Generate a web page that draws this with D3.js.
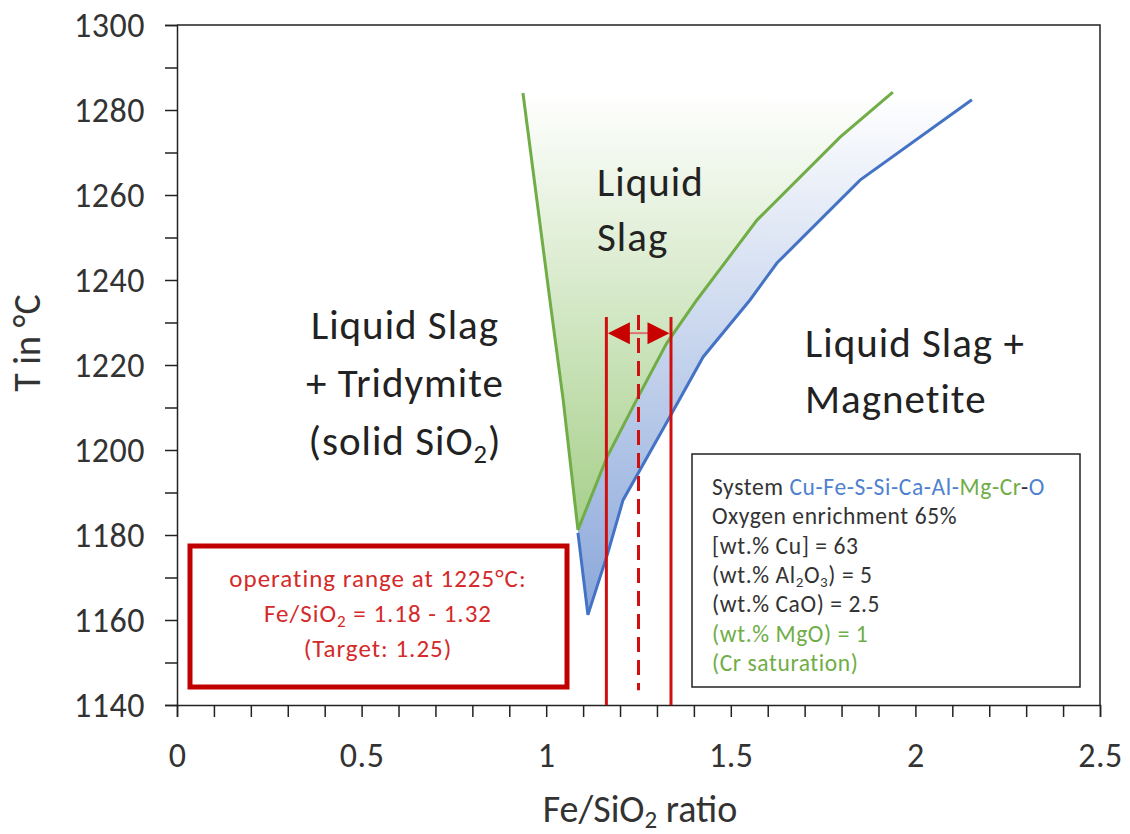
<!DOCTYPE html>
<html>
<head>
<meta charset="utf-8">
<script src="https://cdn.jsdelivr.net/npm/d3@7"></script>
<style>
  body { margin: 0; background: #fff; }
  svg { font-family: Carlito, Calibri, Lato, sans-serif; }
</style>
</head>
<body>
<svg id="chart" width="1130" height="834"></svg>
<script>
// ---- data (Fe/SiO2 ratio, T in °C) ----
const greenLeftX = [0.937, 1.010, 1.046, 1.086];
const greenLeftT = [1284.0, 1235.3, 1211.8, 1181.2];

const greenRightX = [1.086, 1.165, 1.249, 1.327, 1.408, 1.571, 1.796, 1.939];
const greenRightT = [1181.2, 1198.4, 1212.5, 1225.2, 1235.3, 1254.1, 1273.6, 1284.2];

const blueX = [1.086, 1.113, 1.167, 1.208, 1.335, 1.425, 1.552, 1.625, 1.850, 2.153];
const blueT = [1180.5, 1161.2, 1175.8, 1188.2, 1207.8, 1221.9, 1235.3, 1244.0, 1263.5, 1282.4];

// operating range markers
const opRange = [1.163, 1.338];
const opTarget = 1.25;
const opArrowT = 1227.5;
const opTopT = 1231.3;
const opDashBottomT = 1143.5;

const xTickLabels = [0, 0.5, 1, 1.5, 2, 2.5];
const yTickLabels = [1140, 1160, 1180, 1200, 1220, 1240, 1260, 1280, 1300];

const legendLines = [
  [["System ", "#333"], ["Cu-Fe-S-Si-Ca-Al-", "#4f81d0"], ["Mg-Cr", "#70ad47"], ["-", "#333"], ["O", "#4f81d0"]],
  [["Oxygen enrichment 65%", "#333"]],
  [["[wt.% Cu] = 63", "#333"]],
  [["(wt.% Al", "#333"], ["2", "#333", "sub"], ["O", "#333"], ["3", "#333", "sub"], [") = 5", "#333"]],
  [["(wt.% CaO) = 2.5", "#333"]],
  [["(wt.% MgO) = 1", "#70ad47"]],
  [["(Cr saturation)", "#70ad47"]]
];

// ---- layout ----
const svg = d3.select("#chart");
const mLeft = 177, mRight = 1100, mTop = 25, mBottom = 705;

const x = d3.scaleLinear().domain([0, 2.5]).range([mLeft, mRight]);
const y = d3.scaleLinear().domain([1140, 1300]).range([mBottom, mTop]);

const zip = (xs, ts) => xs.map((v, i) => [v, ts[i]]);
const greenLeft = zip(greenLeftX, greenLeftT);
const greenRight = zip(greenRightX, greenRightT);
const blue = zip(blueX, blueT);

const line = d3.line().x(d => x(d[0])).y(d => y(d[1]));

// gradients
const defs = svg.append("defs");
function vGrad(id, y0, y1, c) {
  const g = defs.append("linearGradient").attr("id", id)
    .attr("gradientUnits", "userSpaceOnUse")
    .attr("x1", 0).attr("x2", 0).attr("y1", y0).attr("y2", y1);
  g.append("stop").attr("offset", 0).attr("stop-color", "#ffffff");
  g.append("stop").attr("offset", 1).attr("stop-color", c);
}
vGrad("gGreen", y(1284), y(1181), "#a6cf8a");
vGrad("gBlue", y(1284), y(1161), "#8aa7da");

// fills
const greenPoly = greenLeft.concat(greenRight.slice(1));
svg.append("path").attr("d", line(greenPoly) + "Z").attr("fill", "url(#gGreen)");

const bluePoly = greenRight.concat(blue.slice().reverse());
svg.append("path").attr("d", line(bluePoly) + "Z").attr("fill", "url(#gBlue)");

// curves
svg.append("path").attr("d", line(greenPoly))
  .attr("fill", "none").attr("stroke", "#70ad47").attr("stroke-width", 3);
svg.append("path").attr("d", line(blue))
  .attr("fill", "none").attr("stroke", "#4472c4").attr("stroke-width", 3);

// frame
svg.append("path")
  .attr("d", `M${mLeft},${mTop}H${mRight}V${mBottom}`)
  .attr("fill", "none").attr("stroke", "#222").attr("stroke-width", 1.5);

// axes
const yAxis = d3.axisLeft(y)
  .tickValues(d3.range(1140, 1301, 10))
  .tickSize(12).tickPadding(20)
  .tickFormat(d => yTickLabels.includes(d) ? d : "");
const gy = svg.append("g").attr("transform", `translate(${mLeft},0)`).call(yAxis);

const xAxis = d3.axisBottom(x)
  .tickValues(d3.range(0, 26).map(i => i / 10))
  .tickSize(12).tickPadding(20)
  .tickFormat(d => xTickLabels.some(v => Math.abs(v - d) < 1e-9) ? String(+d.toFixed(1)) : "");
const gx = svg.append("g").attr("transform", `translate(0,${mBottom})`).call(xAxis);

[gx, gy].forEach(g => {
  g.select(".domain").attr("stroke", "#222").attr("stroke-width", 1.5);
  g.selectAll(".tick line").attr("stroke", "#222").attr("stroke-width", 1.5);
  g.selectAll(".tick text").attr("fill", "#333").attr("font-size", 34)
    .attr("letter-spacing", 0.5)
    .attr("font-family", "Carlito, Calibri, Lato, sans-serif");
});
gx.selectAll(".tick text").attr("y", 62).attr("dy", 0);
gy.selectAll(".tick text").attr("x", -32).attr("dy", "0.35em");

// axis titles
const xt = svg.append("text").attr("x", 640).attr("y", 822)
  .attr("text-anchor", "middle").attr("font-size", 38).attr("fill", "#333");
xt.append("tspan").text("Fe/SiO");
xt.append("tspan").attr("font-size", 25).attr("dy", 6).text("2");
xt.append("tspan").attr("dy", -6).text(" ratio");

svg.append("text").attr("transform", "translate(40,343) rotate(-90)")
  .attr("text-anchor", "middle").attr("font-size", 38).attr("fill", "#333")
  .text("T in °C");

// region labels
function label(lines, x0, y0, dy, anchor, size) {
  lines.forEach((parts, i) => {
    const t = svg.append("text").attr("x", x0).attr("y", y0 + i * dy)
      .attr("text-anchor", anchor).attr("font-size", size).attr("fill", "#222")
      .attr("letter-spacing", 1);
    parts.forEach(p => {
      if (p[1] === "sub") {
        t.append("tspan").attr("font-size", size * 0.65).attr("dy", size * 0.2).text(p[0]);
      } else if (p[1] === "back") {
        t.append("tspan").attr("dy", -size * 0.2).text(p[0]);
      } else {
        t.append("tspan").text(p[0]);
      }
    });
  });
}
label([[["Liquid Slag"]], [["+ Tridymite"]], [["(solid SiO"], ["2", "sub"], [")", "back"]]],
  405, 339, 58, "middle", 41);
label([[["Liquid"]], [["Slag"]]], 597, 196, 55, "start", 41);
label([[["Liquid Slag +"]], [["Magnetite"]]], 805, 357, 56, "start", 41);

// operating range lines
const red = "#d01010";
opRange.forEach(v => {
  svg.append("line").attr("x1", x(v)).attr("x2", x(v))
    .attr("y1", y(opTopT)).attr("y2", mBottom)
    .attr("stroke", red).attr("stroke-width", 3);
});
svg.append("line").attr("x1", x(opTarget)).attr("x2", x(opTarget))
  .attr("y1", y(opTopT) - 2).attr("y2", y(opDashBottomT))
  .attr("stroke", red).attr("stroke-width", 3).attr("stroke-dasharray", "15,8");

const ay = y(opArrowT);
const xa = x(opRange[0]) + 1.5, xb = x(opRange[1]) - 1.5;
svg.append("line").attr("x1", xa + 20).attr("x2", xb - 20).attr("y1", ay).attr("y2", ay)
  .attr("stroke", "#e07070").attr("stroke-width", 2);
svg.append("path").attr("d", `M${xa},${ay}L${xa + 22},${ay - 11}L${xa + 22},${ay + 11}Z`).attr("fill", "#c80000");
svg.append("path").attr("d", `M${xb},${ay}L${xb - 22},${ay - 11}L${xb - 22},${ay + 11}Z`).attr("fill", "#c80000");

// operating range box
svg.append("rect").attr("x", 190).attr("y", 546).attr("width", 377).attr("height", 141)
  .attr("fill", "#fff").attr("stroke", "#c00000").attr("stroke-width", 5);
const opText = [
  [["operating range at 1225°C:"]],
  [["Fe/SiO"], ["2", "sub"], [" = 1.18 - 1.32", "back"]],
  [["(Target: 1.25)"]]
];
opText.forEach((parts, i) => {
  const t = svg.append("text").attr("x", 378).attr("y", 587 + i * 35)
    .attr("text-anchor", "middle").attr("font-size", 25).attr("fill", "#d42a2a")
    .attr("letter-spacing", 1);
  parts.forEach(p => {
    const s = t.append("tspan").text(p[0]);
    if (p[1] === "sub") s.attr("font-size", 17).attr("dy", 5);
    if (p[1] === "back") s.attr("dy", -5);
  });
});

// legend box
svg.append("rect").attr("x", 692).attr("y", 454).attr("width", 388).attr("height", 233)
  .attr("fill", "#fff").attr("stroke", "#222").attr("stroke-width", 1.5);
legendLines.forEach((parts, i) => {
  const t = svg.append("text").attr("x", 712).attr("y", 495 + i * 29.3)
    .attr("font-size", 23.5).attr("letter-spacing", 0.6);
  let shifted = false;
  parts.forEach(p => {
    const s = t.append("tspan").attr("fill", p[1]).text(p[0]);
    if (p[2] === "sub") { s.attr("font-size", 15).attr("dy", shifted ? 0 : 4); shifted = true; }
    else if (shifted) { s.attr("dy", -4); shifted = false; }
  });
});
</script>
</body>
</html>
